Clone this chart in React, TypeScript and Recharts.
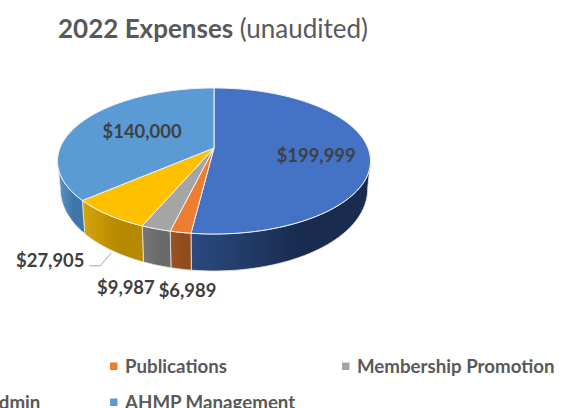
import React from 'react';
import { PieChart, Pie, Legend } from 'recharts';

const categories = ['Conference', 'Publications', 'Membership Promotion', 'Admin', 'AHMP Management'];
const expenses = [199999, 6989, 9987, 27905, 140000];
const topColors = ['#4472c4', '#ed7d31', '#a5a5a5', '#ffc000', '#5b9bd5'];
const wallLeft = ['#2b4a80', '#9b5420', '#777777', '#d6a30a', '#5b95c8'];
const wallRight = ['#192c50', '#8f4c1c', '#6a6a6a', '#b58a00', '#3f76a9'];
const labelOffsets = [
  { radial: 0.66, dx: 0, dy: 4 },
  { radial: 1, dx: 7, dy: 58 },
  { radial: 1, dx: -30, dy: 58 },
  { radial: 1, dx: -58, dy: 45 },
  { radial: 0.58, dx: 6, dy: -1 },
];

const table = categories.map((name, i) => ({ name, value: expenses[i], fill: topColors[i] }));

const RAD = Math.PI / 180;
const PERSP = -0.178, Y_SCALE = 70.7 / 154;

// Perspective projection of a point on the pie disc. angle: recharts degrees.
function project(cx: number, cy: number, r: number, angle: number, f = 1) {
  const th = (90 - angle) * RAD;
  const u = Math.sin(th) * f, v = -Math.cos(th) * f;
  const den = 1 + PERSP * v;
  return { x: cx + (r * u) / den, y: cy + (r * Y_SCALE * v) / den, v: -Math.cos(th) };
}
function wallPoint(cx: number, cy: number, r: number, angle: number) {
  const p = project(cx, cy, r, angle);
  return { x: cx + (p.x - cx) * 0.982, y: p.y + 26 + 11 * p.v };
}
function arcAngles(a: number, b: number) {
  const n = Math.max(2, Math.ceil(Math.abs(b - a) / 2));
  return Array.from({ length: n + 1 }, (_, i) => a + ((b - a) * i) / n);
}
const pathOf = (pts: { x: number; y: number }[]) =>
  pts.map((p, i) => `${i ? 'L' : 'M'}${p.x.toFixed(2)} ${p.y.toFixed(2)}`).join(' ');

function Slice(props: any) {
  const { cx, cy, outerRadius: r, startAngle, endAngle, fill, index } = props;
  const top = arcAngles(startAngle, endAngle).map((a) => project(cx, cy, r, a));
  // front part of the rim: clockwise from top between 100 and 260 degrees => recharts -10 .. -170
  const a0 = Math.min(startAngle, -10);
  const a1 = Math.max(endAngle, -170);
  const hasWall = a0 > a1;
  const wallTop = hasWall ? arcAngles(a0, a1).map((a) => project(cx, cy, r, a)) : [];
  const wallBottom = hasWall ? arcAngles(a1, a0).map((a) => wallPoint(cx, cy, r, a)) : [];
  const id = `wall-${index}`;
  return (
    <g>
      {hasWall && (
        <>
          <defs>
            <linearGradient id={id} x1="0" y1="0" x2="1" y2="0">
              <stop offset="0" stopColor={wallLeft[index]} />
              <stop offset="0.6" stopColor={wallRight[index]} />
              <stop offset="1" stopColor={wallRight[index]} />
            </linearGradient>
          </defs>
          <path d={`${pathOf([...wallTop, ...wallBottom])} Z`} fill={`url(#${id})`} stroke="#e8e8e8" strokeWidth={0.8} />
        </>
      )}
      <path d={`M${cx} ${cy} ${pathOf(top).replace('M', 'L')} Z`} fill={fill} stroke="#f2f2f2" strokeWidth={1} />
    </g>
  );
}

const money = (v: number) => `$${v.toLocaleString('en-US')}`;

function SliceLabel(props: any) {
  const { cx, cy, outerRadius: r, midAngle, value, index } = props;
  const o = labelOffsets[index];
  const p = project(cx, cy, r, midAngle, o.radial);
  const x = p.x + o.dx, y = p.y + o.dy;
  return (
    <g>
      {index === 3 && (
        <polyline
          points={`${x + 39},${y + 6} ${x + 50},${y + 6} ${x + 61},${y - 7}`}
          fill="none"
          stroke="#a6a6a6"
          strokeWidth={1}
        />
      )}
      <text x={x} y={y} textAnchor="middle" dominantBaseline="central" fill="#404040" fontSize={18.4} fontWeight={700} fontFamily="Lato">
        {money(value)}
      </text>
    </g>
  );
}

// Slots of the legend, which ran past the left edge in the source picture.
const legendSlots = [
  null,
  { x: 110, y: 366 },
  { x: 342, y: 366 },
  { x: -29, y: 402 },
  { x: 110, y: 402 },
];

function LegendBox({ payload }: any) {
  return (
    <svg width={574} height={408} style={{ position: 'absolute', left: 0, top: 0, overflow: 'hidden' }}>
      {(payload ?? []).map((e: any) => {
        const slot = legendSlots[categories.indexOf(e.value)];
        if (!slot) return null;
        return (
          <g key={e.value}>
            <rect x={slot.x} y={slot.y - 3.5} width={7.5} height={7.5} fill={e.color} />
            <text x={slot.x + 15} y={slot.y} dominantBaseline="central" fill="#595959" fontSize={18.7} fontWeight={700} fontFamily="Lato">
              {e.value}
            </text>
          </g>
        );
      })}
    </svg>
  );
}

export default function App() {
  return (
    <div style={{ position: 'absolute', left: 0, top: 0, width: 574, height: 408, overflow: 'hidden', background: '#fff' }}>
      <PieChart width={574} height={408} margin={{ top: 0, right: 0, bottom: 0, left: 0 }}>
        <text x={58} y={38} fill="#595959" fontSize={26} fontFamily="Lato">
          <tspan fontWeight={700}>2022 Expenses</tspan>
          <tspan> (unaudited)</tspan>
        </text>
        <Pie
          data={table}
          dataKey="value"
          nameKey="name"
          cx={214}
          cy={148}
          outerRadius={154}
          startAngle={90}
          endAngle={-270}
          isAnimationActive={false}
          shape={Slice}
          label={SliceLabel}
          labelLine={false}
        />
        <Legend itemSorter={null} content={LegendBox} wrapperStyle={{ position: 'absolute', left: 0, top: 0, width: 574, height: 408 }} />
      </PieChart>
    </div>
  );
}
